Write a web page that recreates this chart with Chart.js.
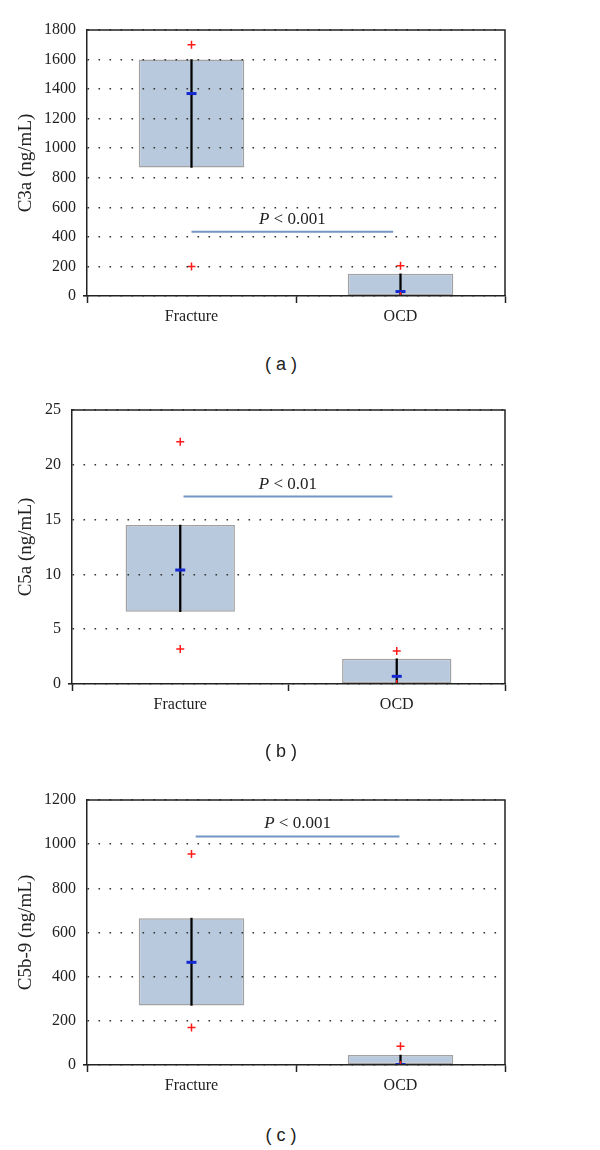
<!DOCTYPE html>
<html>
<head>
<meta charset="utf-8">
<script src="https://cdn.jsdelivr.net/npm/chart.js@4.4.1/dist/chart.umd.min.js"></script>
<style>
  body { margin: 0; background: #fff; width: 600px; height: 1150px; position: relative; overflow: hidden; }
  canvas { position: absolute; left: 0; }
  .lbl { position: absolute; width: 600px; left: -19px; text-align: center; font: 18px "Liberation Sans", Arial, sans-serif; color: #222; line-height: 20px; }
</style>
</head>
<body>
<canvas id="chartA" width="600" height="330" style="top:0px"></canvas>
<canvas id="chartB" width="600" height="340" style="top:380px"></canvas>
<canvas id="chartC" width="600" height="340" style="top:760px"></canvas>
<div class="lbl" style="top:354px">( a )</div>
<div class="lbl" style="top:741px">( b )</div>
<div class="lbl" style="top:1125px">( c )</div>
<script>
const categories = ['Fracture', 'OCD'];

// (a) C3a
const c3aBoxLow = [870, 0];
const c3aBoxHigh = [1600, 150];
const c3aMedian = [1370, 30];
const c3aOutHigh = [1700, 205];
const c3aOutLow = [200, 0];
const c3aTicks = [0, 1800, 200];
const c3aP = { text: '< 0.001', level: 435, from: 0, to: 0.965 };

// (b) C5a
const c5aBoxLow = [6.6, 0];
const c5aBoxHigh = [14.5, 2.3];
const c5aMedian = [10.4, 0.7];
const c5aOutHigh = [22.1, 3.0];
const c5aOutLow = [3.2, 0];
const c5aTicks = [0, 25, 5];
const c5aP = { text: '< 0.01', level: 17.1, from: 0.015, to: 0.98 };

// (c) C5b-9
const c5b9BoxLow = [270, 0];
const c5b9BoxHigh = [665, 45];
const c5b9Median = [465, 2];
const c5b9OutHigh = [955, 85];
const c5b9OutLow = [170, 0];
const c5b9Ticks = [0, 1200, 200];
const c5b9P = { text: '< 0.001', level: 1035, from: 0.02, to: 0.995 };

const serif = '"Liberation Serif", "Times New Roman", serif';
const ink = '#222';

const frame = {
    id: 'frame',
    afterDraw(chart) {
        const a = chart.chartArea, ctx = chart.ctx;
        ctx.save();
        ctx.strokeStyle = ink;
        ctx.lineWidth = 1.5;
        ctx.beginPath();
        ctx.moveTo(a.left, a.top);
        ctx.lineTo(a.right, a.top);
        ctx.lineTo(a.right, a.bottom);
        ctx.stroke();
        ctx.restore();
    }
};

const pBar = {
    id: 'pBar',
    afterDatasetsDraw(chart, args, opts) {
        const x = chart.scales.x, y = chart.scales.y, ctx = chart.ctx;
        const x1 = x.getPixelForValue(opts.from), x2 = x.getPixelForValue(opts.to);
        const yy = y.getPixelForValue(opts.level);
        ctx.save();
        ctx.strokeStyle = '#7196c4';
        ctx.lineWidth = 2;
        ctx.beginPath();
        ctx.moveTo(x1, yy);
        ctx.lineTo(x2, yy);
        ctx.stroke();
        ctx.fillStyle = ink;
        ctx.textBaseline = 'alphabetic';
        ctx.font = 'italic 17px ' + serif;
        const wP = ctx.measureText('P').width;
        ctx.font = '17px ' + serif;
        const rest = ' ' + opts.text;
        const wR = ctx.measureText(rest).width;
        let sx = (x1 + x2) / 2 - (wP + wR) / 2;
        const by = yy - 8;
        ctx.font = 'italic 17px ' + serif;
        ctx.fillText('P', sx, by);
        ctx.font = '17px ' + serif;
        ctx.fillText(rest, sx + wP, by);
        ctx.restore();
    }
};

function makeChart(id, title, low, high, median, outHigh, outLow, ticks, p, left, top, xHeight) {
    const range = categories.map((c, i) => [low[i], high[i]]);
    new Chart(document.getElementById(id), {
        type: 'bar',
        data: {
            labels: categories,
            datasets: [
                { type: 'line', data: outHigh, showLine: false, pointStyle: 'crossRot', rotation: 45,
                  pointRadius: 4, pointBorderColor: '#ff1a1a', pointBorderWidth: 1.5, order: 1 },
                { type: 'line', data: outLow, showLine: false, pointStyle: 'crossRot', rotation: 45,
                  pointRadius: 4, pointBorderColor: '#ff1a1a', pointBorderWidth: 1.5, order: 1 },
                { type: 'line', data: median, showLine: false, pointStyle: 'line',
                  pointRadius: 5, pointBorderColor: '#1428d0', pointBorderWidth: 3, order: 2 },
                { data: range, barThickness: 1.6, backgroundColor: '#000', grouped: false, order: 3 },
                { data: range, backgroundColor: '#b9c9dd', borderColor: '#a2a2a2', borderWidth: 1.5,
                  borderSkipped: false, categoryPercentage: 1, barPercentage: 0.505, grouped: false, order: 4 },
            ],
        },
        options: {
            responsive: false,
            animation: false,
            layout: { padding: { top: top, right: 95, left: 0, bottom: 0 } },
            plugins: {
                legend: { display: false },
                tooltip: { enabled: false },
                pBar: p,
            },
            scales: {
                x: {
                    offset: true,
                    border: { display: true, color: ink, width: 1.5, z: 2 },
                    grid: { offset: true, drawOnChartArea: false, drawTicks: true, tickLength: 7, tickColor: ink, tickWidth: 1.5 },
                    ticks: { color: ink, font: { family: serif, size: 16 }, padding: 4 },
                    afterFit(s) { s.height = xHeight; },
                },
                y: {
                    min: ticks[0], max: ticks[1],
                    border: { display: true, color: ink, width: 1.5, dash: [1.6, 9.4], z: 2 },
                    grid: { z: 1, color: '#333', lineWidth: 1.6, drawTicks: true, tickLength: 4,
                            tickColor: c => c.tick && c.tick.value === 0 ? ink : 'rgba(0,0,0,0)', tickBorderDash: [] },
                    ticks: { stepSize: ticks[2], color: ink, font: { family: serif, size: 16 }, padding: 7,
                             callback: v => String(v) },
                    title: { display: true, text: title, color: ink, font: { family: serif, size: 19 }, padding: { top: 15, bottom: 0 } },
                    afterFit(s) { s.width = left; },
                },
            },
        },
        plugins: [frame, pBar],
    });
}

makeChart('chartA', 'C3a (ng/mL)', c3aBoxLow, c3aBoxHigh, c3aMedian, c3aOutHigh, c3aOutLow, c3aTicks, c3aP, 87, 30, 34);
makeChart('chartB', 'C5a (ng/mL)', c5aBoxLow, c5aBoxHigh, c5aMedian, c5aOutHigh, c5aOutLow, c5aTicks, c5aP, 72, 30, 36);
makeChart('chartC', 'C5b-9 (ng/mL)', c5b9BoxLow, c5b9BoxHigh, c5b9Median, c5b9OutHigh, c5b9OutLow, c5b9Ticks, c5b9P, 87, 40, 35);
</script>
</body>
</html>
